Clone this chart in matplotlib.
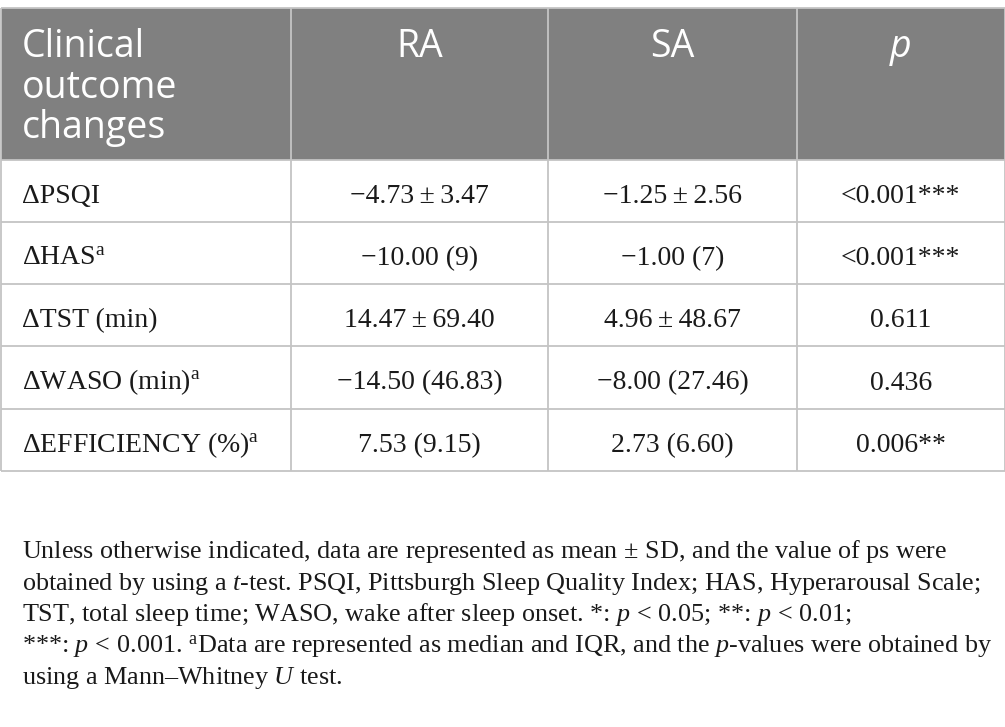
import matplotlib
matplotlib.use("Agg")
import matplotlib.pyplot as plt
from matplotlib.patches import Rectangle

# table content
header = ["Clinical\noutcome\nchanges", "RA", "SA", "p"]
outcomes = ["\u0394PSQI", "\u0394HAS${}^{\\mathrm{a}}$", "\u0394TST (min)",
            "\u0394WASO (min)${}^{\\mathrm{a}}$", "\u0394EFFICIENCY (%)${}^{\\mathrm{a}}$"]
ra_vals = ["\u22124.73\u2009\u00b1\u20093.47", "\u221210.00 (9)", "14.47\u2009\u00b1\u200969.40",
           "\u221214.50 (46.83)", "7.53 (9.15)"]
sa_vals = ["\u22121.25\u2009\u00b1\u20092.56", "\u22121.00 (7)", "4.96\u2009\u00b1\u200948.67",
           "\u22128.00 (27.46)", "2.73 (6.60)"]
p_vals = ["<0.001***", "<0.001***", "0.611", "0.436", "0.006**"]
footnote = [
    "Unless otherwise indicated, data are represented as mean$\\,\\pm\\,$SD, and the value of ps were",
    "obtained by using a $t$-test. PSQI, Pittsburgh Sleep Quality Index; HAS, Hyperarousal Scale;",
    "TST, total sleep time; WASO, wake after sleep onset. *: $p\\,{<}\\,$0.05; **: $p\\,{<}\\,$0.01;",
    "***: $p\\,{<}\\,$0.001. ${}^{\\mathrm{a}}$Data are represented as median and IQR, and the $p$-values were obtained by",
    "using a Mann\u2013Whitney $U$ test.",
]

plt.rcParams['mathtext.fontset'] = 'custom'
plt.rcParams['mathtext.rm'] = 'Liberation Serif'
plt.rcParams['mathtext.it'] = 'Liberation Serif:italic'

W, H = 1005, 727
fig = plt.figure(figsize=(W / 100, H / 100), dpi=100)
ax = fig.add_axes([0, 0, 1, 1])
ax.set_xlim(0, W)
ax.set_ylim(H, 0)
ax.axis('off')

col_edges = [0.5, 291, 548, 797, 1004.5]
row_edges = [8, 160, 222, 284, 346, 409, 471]
grid_c = '#c4c4c4'
head_c = '#808080'
serif = ['Liberation Serif', 'DejaVu Serif']

# header band
ax.add_patch(Rectangle((col_edges[0], row_edges[0]), col_edges[-1] - col_edges[0],
                       row_edges[1] - row_edges[0], facecolor=head_c, edgecolor='none'))

for y in row_edges:
    ax.hlines(y, col_edges[0], col_edges[-1], color=grid_c, lw=1.3)
for x in col_edges:
    ax.vlines(x, row_edges[0], row_edges[-1], color=grid_c, lw=1.3)

# header text
for j, lab in enumerate(header):
    for k, line in enumerate(lab.split("\n")):
        y = 57 + k * 40.5
        if j == 0:
            ax.text(22, y, line, color='white', fontsize=27, family='Open Sans',
                    ha='left', va='baseline')
        else:
            cx = (col_edges[j] + col_edges[j + 1]) / 2
            ax.text(cx, y, line, color='white', fontsize=27, family='Open Sans',
                    style='italic' if lab == 'p' else 'normal', ha='center', va='baseline')

# body
for i in range(len(outcomes)):
    yb = (row_edges[i + 1] + row_edges[i + 2]) / 2 + 12
    ax.text(22, yb, outcomes[i], fontsize=20, family=serif, ha='left', va='baseline', color='#1a1a1a')
    for j, vals in enumerate([ra_vals, sa_vals, p_vals], start=1):
        cx = (col_edges[j] + col_edges[j + 1]) / 2
        ax.text(cx, yb, vals[i], fontsize=20, family=serif, ha='center', va='baseline', color='#1a1a1a')

# footnote
for k, line in enumerate(footnote):
    ax.text(22, 558 + k * 31.6, line, fontsize=18.8, family=serif, ha='left', va='baseline', color='#1a1a1a')

fig.savefig("out.png", dpi=100)
